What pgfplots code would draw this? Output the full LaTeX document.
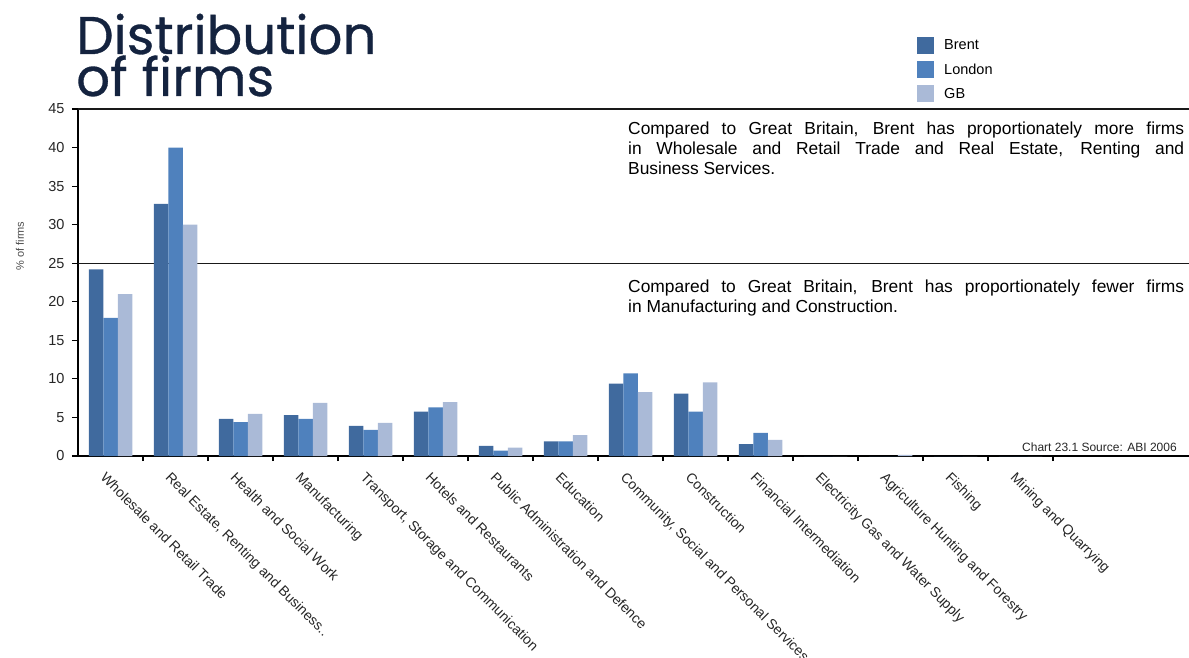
\documentclass[border=0pt]{standalone}
\usepackage{pgfplots}
\pgfplotsset{compat=1.18}
\usepackage{fontspec}
\setmainfont{Liberation Sans}
\newfontfamily\titlefont[FakeBold=0.6]{Poppins}
\definecolor{brent}{HTML}{406A9E}
\definecolor{london}{HTML}{4F81BD}
\definecolor{gb}{HTML}{AABAD7}
\definecolor{titlecol}{HTML}{14233F}

\pgfplotstableread{
x brent london gb
0 24.2 17.9 21.0
1 32.7 40.0 30.0
2 4.8 4.4 5.45
3 5.3 4.8 6.9
4 3.9 3.4 4.3
5 5.75 6.3 7.0
6 1.3 0.7 1.1
7 1.9 1.9 2.7
8 9.4 10.7 8.3
9 8.1 5.75 9.55
10 1.55 3.0 2.1
11 0 0 0
12 0 0 0.15
13 0 0 0
14 0 0 0
}\firms

\begin{document}
\begin{tikzpicture}
\begin{axis}[
  at={(78pt,201pt)}, anchor=south west,
  scale only axis, width=1111pt, height=347pt,
  xmin=-0.5, xmax=16.592, ymin=0, ymax=45,
  clip=false,
  axis lines=left,
  axis line style={-, line width=1.5pt, black},
  ytick={0,5,...,45},
  xtick={0,...,14},
  xticklabels={Wholesale and Retail Trade,{Real Estate, Renting and Business..},Health and Social Work,Manufacturing,{Transport, Storage and Communication},Hotels and Restaurants,Public Administration and Defence,Education,{Community, Social and Personal Services},Construction,Financial Intermediation,Electricity Gas and Water Supply,Agriculture Hunting and Forestry,Fishing,Mining and Quarrying},
  minor xtick={0.5,1.5,...,14.5},
  tick align=outside,
  major tick length=6pt, minor tick length=5pt,
  every major x tick/.append style={draw=none},
  every minor x tick/.append style={black, line width=1.2pt},
  every major y tick/.append style={black, line width=1.2pt},
  /pgf/number format/assume math mode=true,
  yticklabel style={font=\fontsize{14.5}{14.5}\selectfont, text=black!85, xshift=-4pt},
  xticklabel style={font=\fontsize{14}{14}\selectfont, text=black!85, rotate=-45, anchor=north west, inner sep=1pt, yshift=-8pt, xshift=3pt},
  legend entries={Brent,London,GB},
  legend cell align=left,
  legend style={at={(axis description cs:0.7552,1.2075)}, anchor=north west, draw=none, fill=none,
    font=\fontsize{14.5}{14.5}\selectfont, row sep=7pt, inner sep=0pt,
    /tikz/every odd column/.append style={column sep=8pt}},
  legend image code/.code={\path[#1,draw=none] (0pt,-8.5pt) rectangle (17pt,8.5pt);},
]
\addplot[sharp plot, forget plot, black!90, line width=1.3pt] coordinates {(-0.5,25) (16.592,25)};
\addplot[sharp plot, forget plot, black!90, line width=1.5pt] coordinates {(-0.5,45) (16.592,45)};
\addplot[ybar, bar width=14.5pt, bar shift=-14.5pt, fill=brent, draw=none] table[x=x, y=brent] {\firms};
\addplot[ybar, bar width=14.5pt, bar shift=0pt, fill=london, draw=none] table[x=x, y=london] {\firms};
\addplot[ybar, bar width=14.5pt, bar shift=14.5pt, fill=gb, draw=none] table[x=x, y=gb] {\firms};
\end{axis}

\node[anchor=base west, inner sep=0pt, font=\titlefont\fontsize{53}{53}\selectfont, text=titlecol] at (76pt,603pt) {Distribution};
\node[anchor=base west, inner sep=0pt, font=\titlefont\fontsize{53}{53}\selectfont, text=titlecol] at (76pt,561pt) {of firms};

\node[anchor=north west, inner sep=0pt, text width=556pt, align=justify, font=\fontsize{17.4}{20}\selectfont] at (628pt,535pt)
  {Compared to Great Britain, Brent has proportionately more firms\linebreak in Wholesale and Retail Trade and Real Estate, Renting and\linebreak Business Services.};
\node[anchor=north west, inner sep=0pt, text width=556pt, align=justify, font=\fontsize{17.4}{20}\selectfont] at (628pt,377pt)
  {Compared to Great Britain, Brent has proportionately fewer firms\linebreak in Manufacturing and Construction.};

\node[anchor=base west, inner sep=0pt, font=\fontsize{12}{12}\selectfont, text=black!85] at (1022pt,206pt) {Chart 23.1 Source: ABI 2006};
\node[rotate=90, inner sep=0pt, font=\fontsize{11}{11}\selectfont, text=black!70] at (20pt,411pt) {\% of firms};

\pgfresetboundingbox
\path[use as bounding box] (0pt,0pt) rectangle (1189pt,657pt);
\end{tikzpicture}
\end{document}
